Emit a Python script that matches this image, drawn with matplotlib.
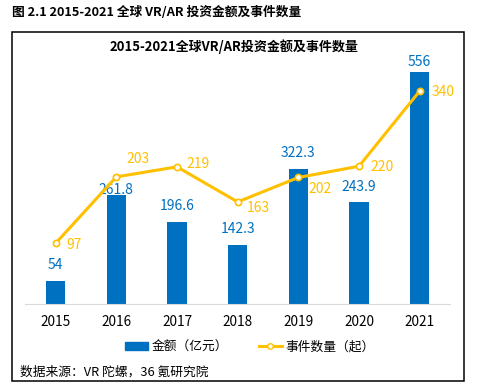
import matplotlib.pyplot as plt
from matplotlib.patches import Rectangle
from matplotlib.lines import Line2D
from matplotlib.patches import Patch

plt.rcParams['font.family'] = ['Noto Sans CJK SC', 'DejaVu Sans']

# dados
anos = ["2015", "2016", "2017", "2018", "2019", "2020", "2021"]
valor = [54, 261.8, 196.6, 142.3, 322.3, 243.9, 556]
rotulo_valor = ["54", "261.8", "196.6", "142.3", "322.3", "243.9", "556"]
eventos = [97, 203, 219, 163, 202, 220, 340]

azul = "#0070C0"
amarelo = "#FFC000"

fig = plt.figure(figsize=(4.87, 3.88), dpi=100)

# moldura externa
fig.patches.append(Rectangle((0.0246, 0.0168), 0.929, 0.902, transform=fig.transFigure,
                             fill=False, edgecolor="black", linewidth=1.1))

fig.text(0.0246, 0.969, "图 2.1 2015-2021 全球 VR/AR 投资金额及事件数量",
         fontsize=9.2, fontweight="bold", ha="left", va="center")
fig.text(0.481, 0.881, "2015-2021全球VR/AR投资金额及事件数量",
         fontsize=9.4, fontweight="bold", ha="center", va="center")

ax = fig.add_axes([0.052, 0.2165, 0.872, 0.6456])
x = list(range(len(anos)))
ax.bar(x, valor, width=0.32, color=azul, zorder=2)
ax.set_xlim(-0.5, 6.5)
ax.set_ylim(0, 600)
ax.set_xticks(x)
ax.set_xticklabels(anos, fontsize=9.8)
ax.tick_params(axis="x", length=0, pad=8)
ax.set_yticks([])
for s in ["top", "right", "left"]:
    ax.spines[s].set_visible(False)
ax.spines["bottom"].set_color("#D9D9D9")

# rótulos das barras
off_bar = [16, 5, 16, 16, 16, 15, 10]
for i, v in enumerate(valor):
    ax.annotate(rotulo_valor[i], (i, v), xytext=(0, off_bar[i]), textcoords="offset pixels",
                ha="center", va="center", color=azul, fontsize=10)

ax2 = ax.twinx()
ax2.set_ylim(0, 400)
ax2.plot(x, eventos, color=amarelo, linewidth=2.2, marker="o", markersize=4.5,
         markerfacecolor="white", markeredgecolor=amarelo, markeredgewidth=1.2, zorder=3)
ax2.axis("off")

off_lin = [(18, -2), (22, 18), (21, 3), (21, -6), (22, -12), (23, -1), (23, -1)]
for i, v in enumerate(eventos):
    dx, dy = off_lin[i]
    ax2.annotate(str(v), (i, v), xytext=(dx, dy), textcoords="offset pixels",
                 ha="center", va="center", color=amarelo, fontsize=10)

# legenda
handles = [Patch(facecolor=azul, edgecolor=azul),
           Line2D([0], [0], color=amarelo, linewidth=2.2, marker="o", markersize=4,
                  markerfacecolor="white", markeredgecolor=amarelo)]
fig.legend(handles, ["金额（亿元）", "事件数量（起）"], loc="center",
           bbox_to_anchor=(0.513, 0.106), ncol=2, frameon=False, fontsize=9.2,
           handlelength=1.8, handleheight=0.6, columnspacing=2.4, handletextpad=0.3)

fig.text(0.041, 0.041, "数据来源：VR 陀螺，36 氪研究院", fontsize=9.2, ha="left", va="center")

plt.savefig("out.png", dpi=100)
plt.close()
